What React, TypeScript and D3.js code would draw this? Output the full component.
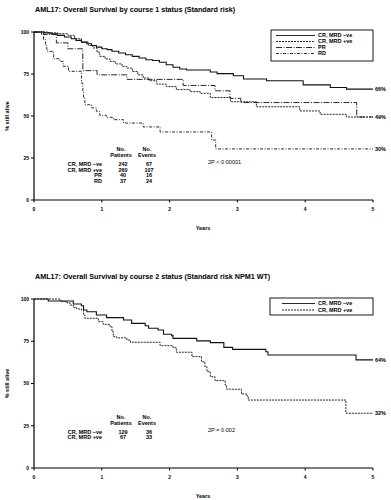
import React from 'react';
import * as d3 from 'd3';

// step points [years, % still alive]
const c1MrdNeg = [[0,100],[0.15,99.5],[0.25,99],[0.35,98],[0.45,97],[0.55,96],[0.62,95],[0.7,94],[0.78,93],[0.85,92],[0.92,91],[1.0,90],[1.08,89.5],[1.15,88.5],[1.25,87.5],[1.35,86.5],[1.45,85.5],[1.55,84.5],[1.65,83.5],[1.75,83],[1.85,82],[1.95,80.5],[2.05,79],[2.15,78],[2.25,77.4],[2.6,76.2],[2.7,75.2],[2.94,74],[3.09,72],[3.43,71],[3.97,68.5],[4.37,67],[4.61,66]];
const c1MrdPos = [[0,100],[0.2,99.5],[0.35,99],[0.5,98],[0.6,96],[0.7,94],[0.8,92],[0.87,90.5],[0.93,88],[0.97,85.5],[1.05,84],[1.12,82.5],[1.2,81],[1.3,79.5],[1.37,78.5],[1.45,76.5],[1.53,74.5],[1.61,72.6],[1.7,71],[1.81,69],[1.95,67.5],[2.1,65.7],[2.3,64.5],[2.45,63.5],[2.6,61],[2.9,58.5],[3.28,55.5],[3.92,53],[4.22,51],[4.61,49.4]];
const c1PR = [[0,100],[0.14,98.5],[0.33,93.5],[0.5,90],[0.72,77],[0.93,74.5],[1.37,71.8],[2.2,68.2],[2.67,65],[2.89,60.5],[3.05,58],[4.76,49.4]];
const c1RD = [[0,100],[0.11,98.4],[0.14,95.4],[0.17,92],[0.19,88.5],[0.29,84.1],[0.38,82.5],[0.43,79.6],[0.51,76.6],[0.7,69.6],[0.72,64],[0.73,60.7],[0.75,56.7],[0.85,54.8],[0.92,52.8],[0.97,50.4],[1.07,49.2],[1.17,47.8],[1.32,45.8],[1.61,43.5],[1.86,40.5],[2.62,35.7],[2.68,30.4]];

const c2MrdNeg = [[0,100],[0.21,98.8],[0.58,97],[0.7,96],[0.73,93.5],[0.78,92.5],[0.92,90.5],[1.07,89],[1.32,87.6],[1.44,85.6],[1.64,84.2],[1.69,82.7],[1.83,81.7],[1.91,79.1],[2.03,78.3],[2.05,76.7],[2.4,75.2],[2.6,74.2],[2.8,71.4],[2.93,70.2],[3.42,68.8],[3.45,66.9],[4.75,64]];
const c2MrdPos = [[0,100],[0.38,99.2],[0.41,98.5],[0.48,97.8],[0.53,96.4],[0.58,95],[0.63,94.1],[0.7,93.5],[0.73,90.5],[0.75,88.6],[0.95,86.6],[1.02,85],[1.12,83.6],[1.15,80.7],[1.17,77.7],[1.22,77],[1.37,75.7],[1.42,74.4],[1.86,72.4],[2.05,71.2],[2.1,68.5],[2.33,65.9],[2.47,62.9],[2.52,60],[2.55,57],[2.6,54],[2.67,51.7],[2.82,49.1],[2.84,46.6],[3.06,43.8],[3.14,42.6],[3.16,40.2],[4.6,32.4]];

const xTicks = [0, 1, 2, 3, 4, 5];
const yTicks = [0, 25, 50, 75, 100];

const groups1 = ['CR, MRD \u2013ve', 'CR, MRD +ve', 'PR', 'RD'];
const patients1 = [242, 260, 40, 37];
const events1 = [67, 107, 16, 24];
const endLabels1 = [['66%', 66], ['49%', 49.4], ['30%', 30.4]];

const groups2 = ['CR, MRD \u2013ve', 'CR, MRD +ve'];
const patients2 = [129, 67];
const events2 = [36, 33];
const endLabels2 = [['64%', 64], ['32%', 32.4]];

const dashes = ['none', '2,1', '6,1.5,1,1.5', '3,1.5,1,1.5'];
const FONT = '"Liberation Sans", Arial, sans-serif';

type Panel = {
  top: number; bottom: number; title: string; series: number[][][]; groups: string[];
  patients: number[]; events: number[]; ends: any[]; pText: string;
  legendBox: [number, number, number, number]; legendY: number[]; lineX0: number;
};

function KMPanel({ p }: { p: Panel }) {
  const x = d3.scaleLinear().domain([0, 5]).range([34, 373]);
  const y = d3.scaleLinear().domain([0, 100]).range([p.bottom, p.top]);
  const line = d3.line<number[]>().x(d => x(d[0])).y(d => y(d[1])).curve(d3.curveStepAfter);
  const tableTop = y(25) - 7;
  return (
    <g fontFamily={FONT}>
      <text x={35} y={p.top - 20} fontSize={7.2} fontWeight="bold">{p.title}</text>
      {p.series.map((s, i) => (
        <path key={i} d={line([...s, [5, s[s.length - 1][1]]]) || ''} fill="none" stroke="#111"
          strokeWidth={i === 0 ? 1.1 : 0.9} strokeDasharray={dashes[i]} />
      ))}
      <line x1={x(0)} x2={x(0)} y1={y(0)} y2={y(100)} stroke="#000" strokeWidth={1.2} />
      <line x1={x(0)} x2={x(5)} y1={y(0)} y2={y(0)} stroke="#000" strokeWidth={1.2} />
      {yTicks.map(t => (
        <g key={t}>
          <line x1={x(0) - 3} x2={x(0)} y1={y(t)} y2={y(t)} stroke="#000" />
          <text x={x(0) - 5} y={y(t) + 1.8} fontSize={5} fontWeight="bold" textAnchor="end">{t}</text>
        </g>
      ))}
      {xTicks.map(t => (
        <g key={t}>
          <line x1={x(t)} x2={x(t)} y1={y(0)} y2={y(0) + 2.5} stroke="#000" />
          <text x={x(t)} y={y(0) + 11} fontSize={5} fontWeight="bold" textAnchor="middle">{t}</text>
        </g>
      ))}
      <text x={203} y={y(0) + 30} fontSize={5.5} fontWeight="bold" textAnchor="middle">Years</text>
      <text transform={`translate(9,${(y(0) + y(100)) / 2}) rotate(-90)`} fontSize={5.5} fontWeight="bold" textAnchor="middle">% still alive</text>
      {p.ends.map(([l, v]: any) => (
        <text key={l} x={375} y={y(v) + 2} fontSize={5.5} fontWeight="bold">{l}</text>
      ))}
      <rect x={p.legendBox[0]} y={p.legendBox[1]} width={p.legendBox[2]} height={p.legendBox[3]} fill="#fff" stroke="#000" strokeWidth={0.9} />
      {p.groups.map((g, i) => (
        <g key={g}>
          <line x1={p.lineX0} x2={315} y1={p.legendY[i] - 1.5} y2={p.legendY[i] - 1.5} stroke="#111" strokeWidth={0.9} strokeDasharray={dashes[i]} />
          <text x={318} y={p.legendY[i]} fontSize={5.5} fontWeight="bold">{g}</text>
        </g>
      ))}
      <text x={121} y={tableTop} fontSize={5.5} fontWeight="bold" textAnchor="middle">No.</text>
      <text x={147} y={tableTop} fontSize={5.5} fontWeight="bold" textAnchor="middle">No.</text>
      <text x={121} y={tableTop + 6} fontSize={5.5} fontWeight="bold" textAnchor="middle">Patients</text>
      <text x={147} y={tableTop + 6} fontSize={5.5} fontWeight="bold" textAnchor="middle">Events</text>
      {p.groups.map((g, i) => (
        <g key={g} fontSize={5.5} fontWeight="bold">
          <text x={102} y={tableTop + 15 + i * 5.6} textAnchor="end">{g}</text>
          <text x={123} y={tableTop + 15 + i * 5.6} textAnchor="middle">{p.patients[i]}</text>
          <text x={149} y={tableTop + 15 + i * 5.6} textAnchor="middle">{p.events[i]}</text>
        </g>
      ))}
      <text x={208} y={y(25) + 6} fontSize={5.5}>{p.pText}</text>
    </g>
  );
}

export default function App() {
  const p1: Panel = {
    top: 32, bottom: 200, title: 'AML17: Overall Survival by course 1 status (Standard risk)',
    series: [c1MrdNeg, c1MrdPos, c1PR, c1RD], groups: groups1, patients: patients1, events: events1,
    ends: endLabels1, pText: '2P < 0\u00b700001', legendBox: [271, 30, 102, 31], legendY: [37, 43, 49, 55], lineX0: 276,
  };
  const p2: Panel = {
    top: 299, bottom: 468, title: 'AML17: Overall Survival by course 2 status (Standard risk NPM1 WT)',
    series: [c2MrdNeg, c2MrdPos], groups: groups2, patients: patients2, events: events2,
    ends: endLabels2, pText: '2P = 0\u00b7002', legendBox: [270, 298, 103, 17], legendY: [305, 311.5], lineX0: 282,
  };
  return (
    <svg width={391} height={500} style={{ position: 'absolute', left: 0, top: 0, background: '#fff' }}>
      <rect width={391} height={500} fill="#fff" />
      <KMPanel p={p1} />
      <KMPanel p={p2} />
    </svg>
  );
}
